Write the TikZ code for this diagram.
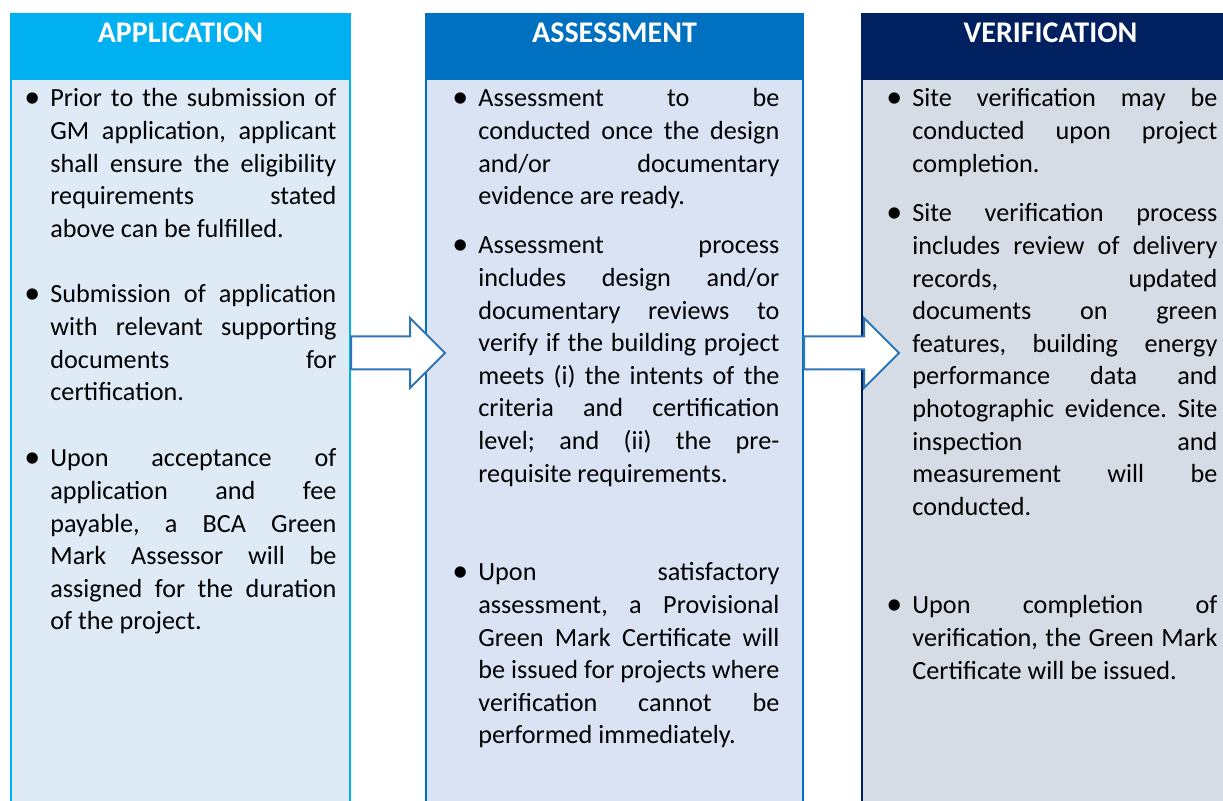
\documentclass[tikz,border=0pt]{standalone}
\usepackage{fontspec}
\setmainfont{Carlito}
\usetikzlibrary{positioning}

\definecolor{headA}{HTML}{00B0F0}
\definecolor{headB}{HTML}{0070C0}
\definecolor{headC}{HTML}{002060}
\definecolor{bodyA}{HTML}{DEEBF7}
\definecolor{bodyB}{HTML}{DAE3F3}
\definecolor{bodyC}{HTML}{D6DCE5}
\definecolor{arrowblue}{HTML}{2E75B6}

\tolerance=10000
\hbadness=10000
\hyphenpenalty=10000
\frenchspacing

% bullet, then a justified block of the given width
\newcommand{\bitem}[2]{\makebox[11.5pt][l]{\hspace*{-1.5pt}\raisebox{-0.3pt}{\scalebox{1.22}{\textbullet}}}%
  \parbox[t]{#1}{#2}}

\begin{document}
\begin{tikzpicture}[x=0.5pt,y=-0.5pt,
  colbody/.style={line width=1pt,minimum height=380pt,inner sep=0pt,anchor=north},
  headbox/.style={line width=1pt,minimum height=32.5pt,inner xsep=0pt,inner ysep=4.5pt,
    text height=10pt,text depth=13.5pt,anchor=north,text=white,
    font=\fontsize{15}{17}\selectfont\bfseries},
  item/.style={inner sep=0pt,anchor=base west,
    font=\fontsize{13.1}{16.3}\selectfont},
  blockarrow/.style={draw=arrowblue,fill=white,line width=1pt,line join=miter}]

  \useasboundingbox (0,0) rectangle (1223,801);
  \clip (0,0) rectangle (1223,801);

  % columns
  \node[colbody,draw=headA,fill=bodyA,minimum width=169.5pt] (appbody) at (180.5,78) {};
  \node[colbody,draw=headB,fill=bodyB,minimum width=188.5pt] (assbody) at (614.5,78) {};
  \node[colbody,draw=headC,fill=bodyC,minimum width=188.5pt] (verbody) at (1050.5,78) {};

  \node[headbox,draw=headA,fill=headA,minimum width=169.5pt] (apphead) at (180.5,13) {APPLICATION};
  \node[headbox,draw=headB,fill=headB,minimum width=188.5pt] (asshead) at (614.5,13) {ASSESSMENT};
  \node[headbox,draw=headC,fill=headC,minimum width=188.5pt] (verhead) at (1050.5,13) {VERIFICATION};

  % application
  \node[item] (app1) at (27,107) {\bitem{143pt}{Prior to the submission of\linebreak
    GM application, applicant\linebreak shall ensure the eligibility\linebreak
    requirements stated\linebreak above can be fulfilled.}};
  \node[item] (app2) at (27,303) {\bitem{143pt}{Submission of application\linebreak
    with relevant supporting\linebreak documents for\linebreak certification.}};
  \node[item] (app3) at (27,467) {\bitem{143pt}{Upon acceptance of\linebreak
    application and fee\linebreak payable, a BCA Green\linebreak Mark Assessor will be\linebreak
    assigned for the duration\linebreak of the project.}};

  % assessment
  \node[item] (ass1) at (455,107) {\bitem{150.5pt}{Assessment to be\linebreak
    conducted once the design\linebreak and/or documentary\linebreak evidence are ready.}};
  \node[item] (ass2) at (455,254) {\bitem{150.5pt}{Assessment process\linebreak
    includes design and/or\linebreak documentary reviews to\linebreak
    verify if the building project\linebreak meets (i) the intents of the\linebreak
    criteria and certification\linebreak level; and (ii) the pre-\linebreak
    requisite requirements.}};
  \node[item] (ass3) at (455,581) {\bitem{150.5pt}{Upon satisfactory\linebreak
    assessment, a Provisional\linebreak Green Mark Certificate will\linebreak
    be issued for projects where\linebreak verification cannot be\linebreak
    performed immediately.}};

  % verification
  \node[item] (ver1) at (889,107) {\bitem{152.5pt}{Site verification may be\linebreak
    conducted upon project\linebreak completion.}};
  \node[item] (ver2) at (889,222) {\bitem{152.5pt}{Site verification process\linebreak
    includes review of delivery\linebreak records, updated\linebreak
    documents on green\linebreak features, building energy\linebreak
    performance data and\linebreak photographic evidence. Site\linebreak
    inspection and\linebreak measurement will be\linebreak conducted.}};
  \node[item] (ver3) at (889,614) {\bitem{152.5pt}{Upon completion of\linebreak
    verification, the Green Mark\linebreak Certificate will be issued.}};

  % arrows
  \coordinate (arrA) at (appbody.east |- 0,353);
  \coordinate (arrB) at (assbody.east |- 0,353);
  \draw[blockarrow] (arrA) ++(0,-16.5) -- ++(59,0) -- ++(0,-18.5) -- ++(35,35)
    -- ++(-35,35) -- ++(0,-18.5) -- ++(-59,0) -- cycle;
  \draw[blockarrow] (arrB) ++(0,-16.5) -- ++(60,0) -- ++(0,-18.5) -- ++(35,35)
    -- ++(-35,35) -- ++(0,-18.5) -- ++(-60,0) -- cycle;
\end{tikzpicture}
\end{document}
